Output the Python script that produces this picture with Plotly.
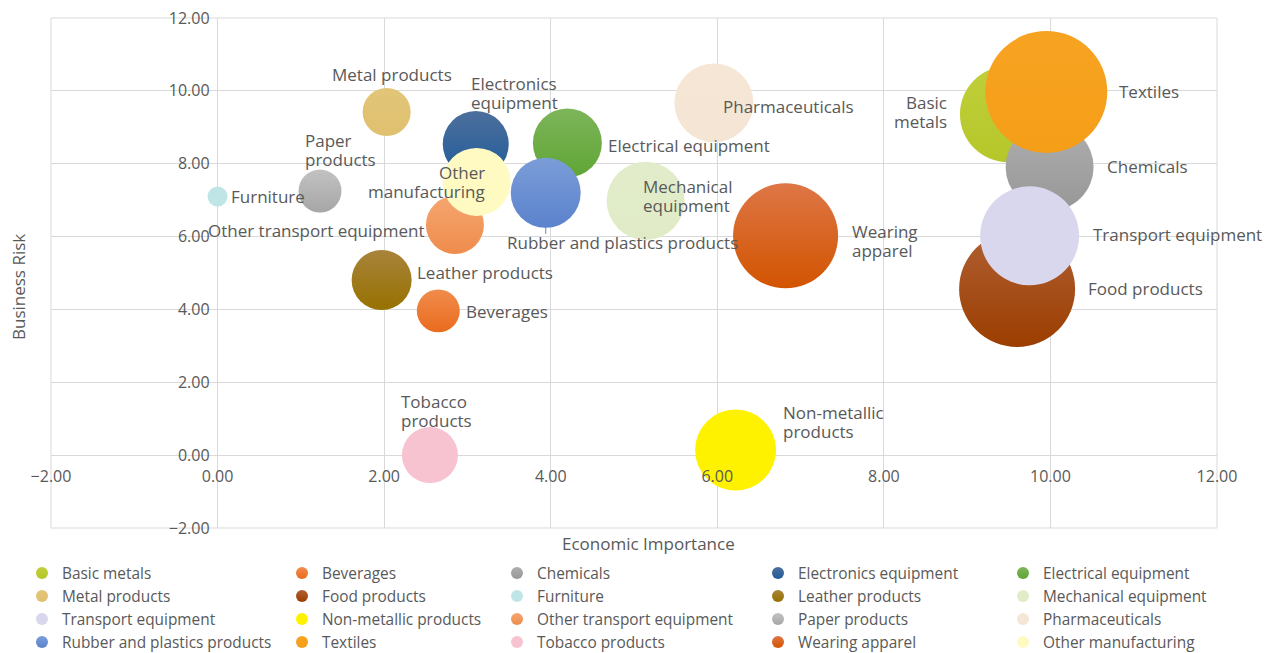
import math
import plotly.graph_objects as go

# ---------------- data ----------------
categories = [
    "Basic metals", "Beverages", "Chemicals", "Electronics equipment", "Electrical equipment",
    "Metal products", "Food products", "Furniture", "Leather products", "Mechanical equipment",
    "Transport equipment", "Non-metallic products", "Other transport equipment", "Paper products", "Pharmaceuticals",
    "Rubber and plastics products", "Textiles", "Tobacco products", "Wearing apparel", "Other manufacturing",
]
economic_importance = [
    9.49, 2.65, 9.99, 3.10, 4.20,
    2.03, 9.60, 0.00, 1.97, 5.14,
    9.75, 6.22, 2.85, 1.23, 5.96,
    3.94, 9.95, 2.55, 6.82, 3.11,
]
business_risk = [
    9.36, 3.96, 7.91, 8.54, 8.57,
    9.42, 4.56, 7.10, 4.81, 6.98,
    6.02, 0.14, 6.32, 7.25, 9.67,
    7.20, 9.97, 0.00, 6.02, 7.50,
]
bubble_size = [
    6.19, 1.24, 5.20, 2.93, 3.20,
    1.55, 9.04, 0.27, 2.42, 4.09,
    6.58, 4.41, 2.26, 1.24, 4.19,
    3.29, 10.00, 2.11, 7.41, 3.11,
]
label_lines = [
    ["Basic", "metals"], ["Beverages"], ["Chemicals"], ["Electronics", "equipment"], ["Electrical equipment"],
    ["Metal products"], ["Food products"], ["Furniture"], ["Leather products"], ["Mechanical", "equipment"],
    ["Transport equipment"], ["Non-metallic", "products"], ["Other transport equipment"], ["Paper", "products"], ["Pharmaceuticals"],
    ["Rubber and plastics products"], ["Textiles"], ["Tobacco", "products"], ["Wearing", "apparel"], ["Other", "manufacturing"],
]
x_ticks = [-2, 0, 2, 4, 6, 8, 10, 12]
y_ticks = [-2, 0, 2, 4, 6, 8, 10, 12]

# ---------------- styles ----------------
top_colors = [
    "#c0cf3a", "#f08c4c", "#aeaeae", "#4d6f9c", "#7db55a",
    "#e3c579", "#b05f33", "#bfe5e6", "#a8843c", "#e2ecca",
    "#d9d7ee", "#fff200", "#f6a670", "#c2c2c2", "#f5e6d6",
    "#7b9dd8", "#f7a322", "#f8c3d1", "#de7646", "#fff9c2",
]
bottom_colors = [
    "#b5c72a", "#ea6b1e", "#979797", "#1f5c9a", "#60a535",
    "#dfc06f", "#9b3e00", "#bfe5e6", "#977100", "#e0ebc6",
    "#d9d7ee", "#fff200", "#ee8c4c", "#a6a6a6", "#f5e5d4",
    "#5b82cc", "#f59e18", "#f8c3d1", "#d25400", "#fff9c2",
]
# label placement: (xanchor, kx, dx, dy_down) -> xshift = kx*r + dx ; block centre dy_down px below bubble centre
label_style = [
    ("right", -1, -12, -2.5),
    ("left", 1, 5.5, 1),
    ("left", 1, 12, 0),
    ("left", 0, -6, -51.5),
    ("left", 1, 5.5, 3),
    ("center", 0, 5, -37),
    ("left", 1, 12, -1),
    ("left", 1, 2.5, 0),
    ("left", 1, 4, -7),
    ("left", 0, -4, -5),
    ("left", 1, 12.5, -1),
    ("left", 1, 5.5, -28),
    ("right", -1, -1, 6),
    ("left", 0, -16, -41.5),
    ("left", 0, 8, 4),
    ("center", 0, 77, 50),
    ("left", 1, 11, 0),
    ("left", 0, -30, -44),
    ("left", 1, 12.5, 5.5),
    ("right", 0, 9, 0),
]
LEADER_INDEX = categories.index("Rubber and plastics products")
LINE_STEP = 19

TEXT = "#595959"
FONT = "Open Sans"
LABEL_FS = 17
TICK_FS = 16
LEGEND_FS = 15.4
MAX_D = 122
sizeref = 2 * max(bubble_size) / MAX_D ** 2

W, H = 1271, 653
ML, MR, MT, MB = 51, 54, 18, 125
PW = W - ML - MR
PH = H - MT - MB

legend_cols_px = [22, 282, 497, 758, 1003]
legend_top_px = 556.5


def radius_px(s):
    return math.sqrt(2 * s / sizeref) / 2


fig = go.Figure()
for i, cat in enumerate(categories):
    col = i % 5
    fig.add_trace(go.Scatter(
        x=[economic_importance[i]], y=[business_risk[i]],
        mode="markers", name=cat,
        legend="legend" if col == 0 else f"legend{col + 1}",
        marker=dict(size=[bubble_size[i]], sizemode="area", sizeref=sizeref,
                    color=top_colors[i], line=dict(width=0),
                    gradient=dict(type="vertical", color=bottom_colors[i]),
                    opacity=1),
        hoverinfo="name",
    ))

annotations = []
for i in range(len(categories)):
    r = radius_px(bubble_size[i])
    xa, kx, dx, dy = label_style[i]
    lines = label_lines[i]
    n = len(lines)
    for k, line in enumerate(lines):
        off = dy + (k - (n - 1) / 2) * LINE_STEP
        annotations.append(dict(
            x=economic_importance[i], y=business_risk[i], xref="x", yref="y",
            text=line, showarrow=False, xanchor=xa, yanchor="middle",
            xshift=kx * r + dx, yshift=-off, borderpad=0,
            font=dict(family=FONT, size=LABEL_FS, color=TEXT),
        ))

annotations.append(dict(text="Economic Importance", xref="paper", yref="paper",
                        x=(648 - ML) / PW, y=-(543 - (MT + PH)) / PH, showarrow=False,
                        xanchor="center", yanchor="middle",
                        font=dict(family=FONT, size=LABEL_FS, color=TEXT)))
annotations.append(dict(text="Business Risk", xref="paper", yref="paper",
                        x=(18 - ML) / PW, y=((MT + PH) - 287) / PH, showarrow=False,
                        xanchor="center", yanchor="middle", textangle=-90,
                        font=dict(family=FONT, size=LABEL_FS, color=TEXT)))

# leader line below the rubber & plastics bubble
rl = radius_px(bubble_size[LEADER_INDEX])
shapes = [
    dict(type="rect", xref="paper", yref="paper", x0=0, x1=1, y0=0, y1=1,
         line=dict(color="#d9d9d9", width=1), layer="below"),
    dict(type="line", xref="x", yref="y", xsizemode="pixel", ysizemode="pixel",
         xanchor=economic_importance[LEADER_INDEX], yanchor=business_risk[LEADER_INDEX],
         x0=0, x1=0, y0=-rl + 1, y1=-rl - 6,
         line=dict(color=bottom_colors[LEADER_INDEX], width=1), layer="above"),
]

xr = [x_ticks[0], x_ticks[-1]]
yr = [y_ticks[0], y_ticks[-1]]
axis_common = dict(showgrid=True, gridcolor="#d9d9d9", gridwidth=1, zeroline=False,
                   showline=False, ticks="", tickformat=".2f",
                   tickfont=dict(family=FONT, size=TICK_FS, color=TEXT), anchor="free")

layout = dict(
    width=W, height=H,
    margin=dict(l=ML, r=MR, t=MT, b=MB, autoexpand=False),
    paper_bgcolor="white", plot_bgcolor="white",
    xaxis=dict(range=xr, tickvals=x_ticks, position=(0 - yr[0]) / (yr[1] - yr[0]),
               ticklabelstandoff=10, **axis_common),
    yaxis=dict(range=yr, tickvals=y_ticks, position=(0 - xr[0]) / (xr[1] - xr[0]),
               ticklabelstandoff=8, **axis_common),
    annotations=annotations,
    shapes=shapes,
    showlegend=True,
)
for c, px in enumerate(legend_cols_px):
    key = "legend" if c == 0 else f"legend{c + 1}"
    layout[key] = dict(x=(px - ML) / PW, y=-(legend_top_px - (MT + PH)) / PH, xanchor="left", yanchor="top",
                       orientation="v", bgcolor="rgba(0,0,0,0)", itemsizing="constant",
                       font=dict(family=FONT, size=LEGEND_FS, color=TEXT), traceorder="normal",
                       itemclick=False, itemdoubleclick=False, maxheight=200)
fig.update_layout(**layout)
fig.write_html("out.html", config={"displayModeBar": False},
               post_script="document.body.style.margin='0';document.body.style.overflow='hidden';")
